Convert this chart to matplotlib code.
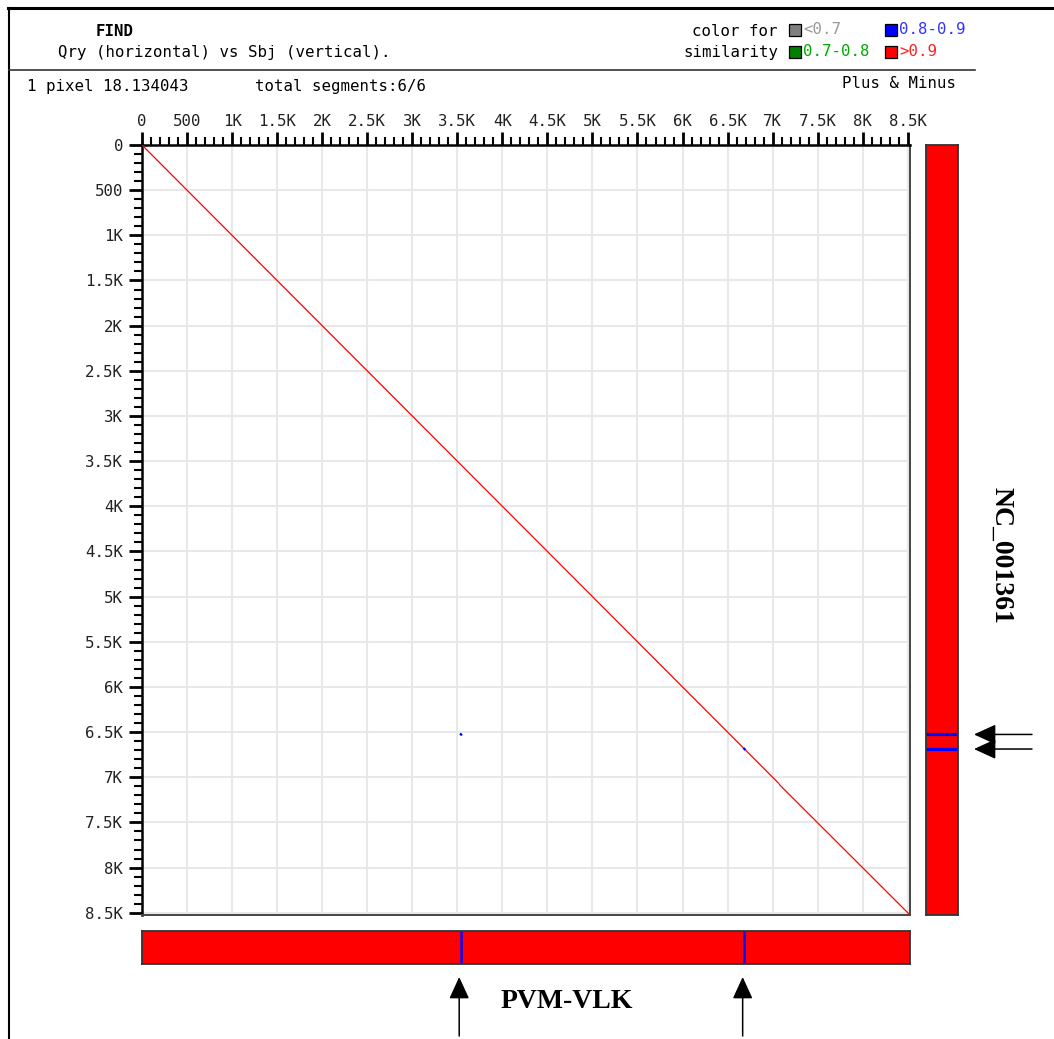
import matplotlib
matplotlib.use("Agg")
import matplotlib.pyplot as plt
from matplotlib.patches import Rectangle, FancyArrowPatch
from matplotlib.lines import Line2D
from matplotlib.ticker import MultipleLocator, FixedLocator
import matplotlib.transforms as mtransforms

# ---------------- data ----------------
query_name = "PVM-VLK"
subject_name = "NC_001361"
axis_extent = 8525
tick_values = [0, 500, 1000, 1500, 2000, 2500, 3000, 3500, 4000, 4500,
               5000, 5500, 6000, 6500, 7000, 7500, 8000, 8500]
tick_labels = ["0", "500", "1K", "1.5K", "2K", "2.5K", "3K", "3.5K", "4K", "4.5K",
               "5K", "5.5K", "6K", "6.5K", "7K", "7.5K", "8K", "8.5K"]
seg_q_start = [0, 6675, 6700, 7072, 7080, 3530]
seg_q_end   = [6675, 6700, 7072, 7080, 8525, 3552]
seg_s_start = [0, 6675, 6700, 7075, 7086, 6515]
seg_s_end   = [6675, 6700, 7072, 7086, 8525, 6537]
seg_sim     = [0.95, 0.85, 0.95, 0.95, 0.95, 0.85]

legend_labels = ["<0.7", "0.8-0.9", "0.7-0.8", ">0.9"]

# ---------------- helpers ----------------
W, H, DPI = 1054, 1039, 100
fig = plt.figure(figsize=(W / DPI, H / DPI), dpi=DPI)
fig.patch.set_facecolor("white")

def fx(x):
    return x / W

def fy(y):
    return 1 - y / H

def sim_color(s):
    if s > 0.9:
        return "#ff0000"
    if s >= 0.8:
        return "#0000ff"
    if s >= 0.7:
        return "#008000"
    return "#808080"

MONO = "DejaVu Sans Mono"
FS = 11.3

# ---------------- frame lines ----------------
fig.add_artist(Line2D([fx(8), fx(W)], [fy(8), fy(8)], color="black", lw=2.2))
fig.add_artist(Line2D([fx(9), fx(9)], [fy(8), fy(H)], color="black", lw=1.5))
fig.add_artist(Line2D([fx(9), fx(975)], [fy(70), fy(70)], color="#333333", lw=1.2))

# ---------------- header text ----------------
fig.text(fx(115), fy(31), "FIND", family=MONO, fontsize=FS, fontweight="bold",
         ha="center", va="center")
fig.text(fx(58), fy(52), "Qry (horizontal) vs Sbj (vertical).", family=MONO,
         fontsize=FS, ha="left", va="center")
fig.text(fx(27), fy(86), "1 pixel 18.134043", family=MONO, fontsize=FS,
         ha="left", va="center")
fig.text(fx(255), fy(86), "total segments:6/6", family=MONO, fontsize=FS,
         ha="left", va="center")
fig.text(fx(956), fy(83), "Plus & Minus", family=MONO, fontsize=FS,
         ha="right", va="center")

fig.text(fx(778), fy(31), "color for", family=MONO, fontsize=FS, ha="right", va="center")
fig.text(fx(778), fy(52), "similarity", family=MONO, fontsize=FS, ha="right", va="center")
legend_pos = [(789, 30, 0.6), (885, 30, 0.85), (789, 52, 0.75), (885, 52, 0.95)]
legend_text_colors = ["#999999", "#3333ff", "#00aa00", "#ff2020"]
for (x, y, s), lab, tc in zip(legend_pos, legend_labels, legend_text_colors):
    fig.add_artist(Rectangle((fx(x), fy(y + 6)), 12 / W, 12 / H,
                             transform=fig.transFigure, facecolor=sim_color(s),
                             edgecolor="black", lw=0.9))
    fig.text(fx(x + 14), fy(y), lab, family=MONO, fontsize=FS, color=tc,
             ha="left", va="center")

# ---------------- main dot plot ----------------
ax = fig.add_axes([fx(142), fy(915), 768 / W, 770 / H])
ax.set_xlim(0, axis_extent)
ax.set_ylim(axis_extent, 0)
ax.xaxis.tick_top()
ax.set_xticks(tick_values)
ax.set_xticklabels(tick_labels)
ax.set_yticks(tick_values)
ax.set_yticklabels(tick_labels)
ax.xaxis.set_minor_locator(MultipleLocator(100))
ax.yaxis.set_minor_locator(MultipleLocator(100))
ax.tick_params(which="major", direction="out", length=9.5, width=2.0, color="black",
               labelsize=FS, labelfontfamily=MONO, labelcolor="#222222")
ax.tick_params(which="minor", direction="out", length=5.5, width=1.5, color="black")
ax.tick_params(axis="x", which="major", pad=2)
ax.tick_params(axis="y", which="major", pad=4)
ax.grid(True, which="major", color="#e8e8e8", lw=1.5, zorder=0)
ax.set_axisbelow(True)
for side in ("top", "left"):
    ax.spines[side].set_color("black")
    ax.spines[side].set_linewidth(1.8)
for side in ("right", "bottom"):
    ax.spines[side].set_color("#444444")
    ax.spines[side].set_linewidth(1.4)

for qs, qe, ss, se, s in zip(seg_q_start, seg_q_end, seg_s_start, seg_s_end, seg_sim):
    c = sim_color(s)
    ax.plot([qs, qe], [ss, se], color=c, lw=0.9 if c == "#ff0000" else 1.6,
            solid_capstyle="butt", zorder=3)

# ---------------- side bars ----------------
blue_idx = [i for i, s in enumerate(seg_sim) if 0.8 <= s <= 0.9]

axr = fig.add_axes([fx(926), fy(915), 32 / W, 770 / H])
axr.set_xlim(0, 1)
axr.set_ylim(axis_extent, 0)
axr.axhspan(0, axis_extent, color="#ff0000", zorder=1)
for i in blue_idx:
    axr.axhline((seg_s_start[i] + seg_s_end[i]) / 2, color="#0000ff", lw=2.3, zorder=2)
axr.set_xticks([])
axr.set_yticks([])
for sp in axr.spines.values():
    sp.set_color("#333333")
    sp.set_linewidth(1.3)

axb = fig.add_axes([fx(142), fy(964), 768 / W, 33 / H])
axb.set_xlim(0, axis_extent)
axb.set_ylim(0, 1)
axb.axvspan(0, axis_extent, color="#ff0000", zorder=1)
for i in blue_idx:
    axb.axvline((seg_q_start[i] + seg_q_end[i]) / 2, color="#0000ff", lw=1.8, zorder=2)
axb.set_xticks([])
axb.set_yticks([])
for sp in axb.spines.values():
    sp.set_color("#333333")
    sp.set_linewidth(1.3)

# ---------------- labels & arrows ----------------
fig.text(fx(1001), fy(555), subject_name, family="Liberation Serif", fontweight="bold",
         fontsize=20, rotation=270, ha="center", va="center")
fig.text(fx(567), fy(1002), query_name, family="Liberation Serif", fontweight="bold",
         fontsize=20, ha="center", va="center")

astyle = "-|>,head_length=1.35,head_width=0.62"
tb = mtransforms.blended_transform_factory(axb.transData, fig.transFigure)
for i in blue_idx:
    q = (seg_q_start[i] + seg_q_end[i]) / 2 - 20
    fig.add_artist(FancyArrowPatch((q, fy(1036)), (q, fy(977)), transform=tb,
                                   arrowstyle=astyle, mutation_scale=10,
                                   color="black", lw=1.1, shrinkA=0, shrinkB=0))
tr = mtransforms.blended_transform_factory(fig.transFigure, axr.transData)
for i in blue_idx:
    s = (seg_s_start[i] + seg_s_end[i]) / 2
    fig.add_artist(FancyArrowPatch((fx(1032), s), (fx(974), s), transform=tr,
                                   arrowstyle=astyle, mutation_scale=10,
                                   color="black", lw=1.1, shrinkA=0, shrinkB=0))

fig.savefig("out.png", dpi=DPI, facecolor="white")
